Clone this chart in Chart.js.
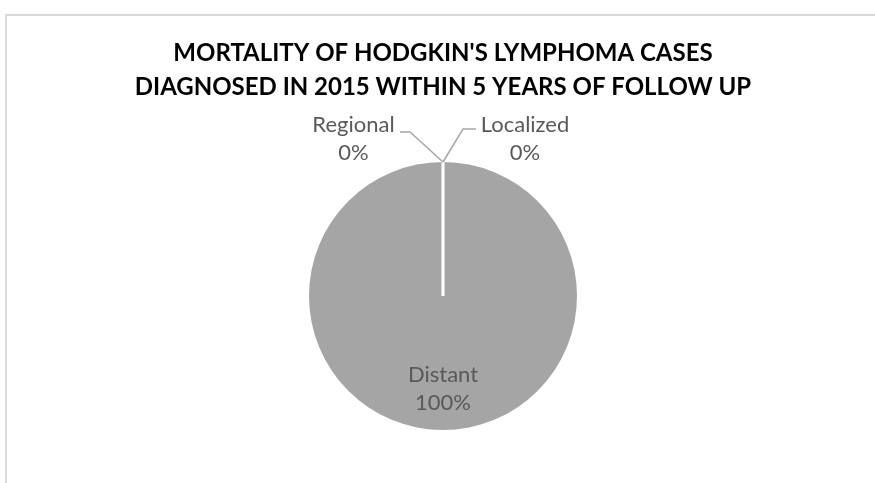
<!DOCTYPE html>
<html>
<head>
<meta charset="utf-8">
<script src="https://cdn.jsdelivr.net/npm/chart.js@4.4.0/dist/chart.umd.min.js"></script>
<style>
  html, body { margin: 0; padding: 0; background: #fff; overflow: hidden; }
  #wrap { position: relative; width: 875px; height: 483px; }
  #frame { position: absolute; left: 5px; top: 14px; width: 900px; height: 500px;
           border: 2px solid #d9d9d9; box-sizing: border-box; }
  canvas { position: absolute; left: 0; top: 0; }
</style>
</head>
<body>
<div id="wrap">
  <div id="frame"></div>
  <canvas id="chart" width="875" height="483"></canvas>
</div>
<script>
const titleLines = ["MORTALITY OF HODGKIN'S LYMPHOMA CASES", 'DIAGNOSED IN 2015 WITHIN 5 YEARS OF FOLLOW UP'];
const stages = ['Localized', 'Regional', 'Distant'];
const mortality = [0, 0, 100]; // percent of deaths by stage

const sliceColors = ['#4472c4', '#ed7d31', '#a5a5a5'];
const labelFont = '22px Lato';
const labelColor = '#595959';

// where the outside labels go (relative to the pie centre)
const outsideLabels = {
  Localized: { tx: 82, ty: -171, line: [[33, -167], [20, -167]] },
  Regional: { tx: -89.5, ty: -171, line: [[-43, -164], [-33, -164]] }
};

const stageLabels = {
  id: 'stageLabels',
  afterDatasetsDraw(chart) {
    const ctx = chart.ctx;
    const meta = chart.getDatasetMeta(0);
    const total = mortality.reduce((a, b) => a + b, 0);
    ctx.save();

    // white slice borders
    meta.data.forEach(arc => {
      ctx.strokeStyle = '#fff';
      ctx.lineWidth = 2.5;
      ctx.beginPath();
      ctx.moveTo(arc.x, arc.y);
      ctx.lineTo(arc.x + arc.outerRadius * Math.cos(arc.startAngle), arc.y + arc.outerRadius * Math.sin(arc.startAngle));
      ctx.stroke();
    });

    ctx.font = labelFont;
    ctx.fillStyle = labelColor;
    ctx.textAlign = 'center';
    ctx.textBaseline = 'middle';

    meta.data.forEach((arc, i) => {
      const pct = Math.round(mortality[i] / total * 100) + '%';
      const mid = (arc.startAngle + arc.endAngle) / 2;
      const cx = arc.x, cy = arc.y, r = arc.outerRadius;
      const pos = outsideLabels[stages[i]];
      if (pos) {
        ctx.strokeStyle = '#a6a6a6';
        ctx.lineWidth = 1.5;
        ctx.beginPath();
        ctx.moveTo(cx + pos.line[0][0], cy + pos.line[0][1]);
        ctx.lineTo(cx + pos.line[1][0], cy + pos.line[1][1]);
        ctx.lineTo(cx + r * Math.cos(mid), cy + r * Math.sin(mid));
        ctx.stroke();
        ctx.fillText(stages[i], cx + pos.tx, cy + pos.ty);
        ctx.fillText(pct, cx + pos.tx, cy + pos.ty + 28);
      } else {
        const lx = cx + 0.69 * r * Math.cos(mid);
        const ly = cy + 0.69 * r * Math.sin(mid);
        ctx.fillText(stages[i], lx, ly - 14);
        ctx.fillText(pct, lx, ly + 14);
      }
    });
    ctx.restore();
  }
};

new Chart(document.getElementById('chart'), {
  type: 'pie',
  data: {
    labels: stages,
    datasets: [{
      data: mortality,
      backgroundColor: sliceColors,
      borderWidth: 0,
      hoverOffset: 0,
      offset: 0
    }]
  },
  options: {
    responsive: false,
    animation: false,
    devicePixelRatio: 1,
    layout: { padding: { left: 11, right: 0, top: 0, bottom: 53 } },
    plugins: {
      legend: { display: false },
      tooltip: { enabled: false },
      title: {
        display: true,
        text: titleLines,
        color: '#000',
        font: { family: 'Lato', size: 24, weight: 'bold', lineHeight: 34 / 24 },
        padding: { top: 36, bottom: 58 }
      }
    }
  },
  plugins: [stageLabels]
});
</script>
</body>
</html>
